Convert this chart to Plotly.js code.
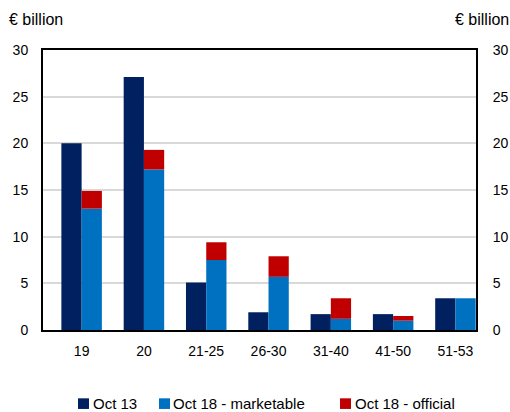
<!DOCTYPE html>
<html><head><meta charset="utf-8">
<script src="https://cdn.plot.ly/plotly-3.0.1.min.js"></script>
<style>body{margin:0;padding:0;background:#fff}#chart{width:510px;height:412px}</style>
</head><body><div id="chart"></div>
<script>
const categories = ["19", "20", "21-25", "26-30", "31-40", "41-50", "51-53"];
const oct13 = [20.0, 27.1, 5.1, 1.9, 1.7, 1.7, 3.4];
const oct18Marketable = [13.0, 17.2, 7.5, 5.7, 1.2, 1.0, 3.4];
const oct18Official = [1.9, 2.1, 1.9, 2.2, 2.2, 0.5, 0];
const yTicks = [0, 5, 10, 15, 20, 25, 30];
const seriesNames = ["Oct 13", "Oct 18 - marketable", "Oct 18 - official"];
const seriesColors = ["#002060", "#0070C0", "#C00000"];

const fam = "Liberation Sans, Arial, sans-serif";
const font = {family: fam, size: 14, color: "#000"};
const traces = [
  {type: "bar", name: seriesNames[0], x: categories, y: oct13, offsetgroup: "a",
   marker: {color: seriesColors[0]}},
  {type: "bar", name: seriesNames[1], x: categories, y: oct18Marketable, offsetgroup: "b",
   marker: {color: seriesColors[1]}},
  {type: "bar", name: seriesNames[2], x: categories, y: oct18Official, base: oct18Marketable,
   offsetgroup: "b", marker: {color: seriesColors[2]}},
  {type: "scatter", x: categories, y: oct13, yaxis: "y2", mode: "none", showlegend: false, hoverinfo: "skip"}
];

// legend drawn as squares + labels below the plot
const legendSquareX = [0.0808, 0.2679, 0.6859];
const legendTextX = [0.1132, 0.2979, 0.7182];
const shapes = seriesNames.map((n, i) => ({
  type: "rect", xref: "paper", yref: "paper",
  x0: legendSquareX[i], x1: legendSquareX[i] + 0.0254, y0: -0.282, y1: -0.244,
  fillcolor: seriesColors[i], line: {width: 0}
}));
const annotations = seriesNames.map((n, i) => ({
  text: n, xref: "paper", yref: "paper", x: legendTextX[i], y: -0.262,
  xanchor: "left", yanchor: "middle", showarrow: false, borderpad: 0,
  font: {family: fam, size: 15, color: "#000"}
}));
annotations.push(
  {text: "€ billion", xref: "paper", yref: "paper", x: -0.083, y: 1.11, xanchor: "left", yanchor: "middle",
   showarrow: false, font: {family: fam, size: 16, color: "#000"}},
  {text: "€ billion", xref: "paper", yref: "paper", x: 1.08, y: 1.11, xanchor: "right", yanchor: "middle",
   showarrow: false, font: {family: fam, size: 16, color: "#000"}}
);

const layout = {
  width: 510, height: 412,
  margin: {l: 43, r: 34, t: 50, b: 82},
  paper_bgcolor: "#fff", plot_bgcolor: "#fff",
  font: font,
  barmode: "group", bargap: 0.35, bargroupgap: 0,
  showlegend: false,
  xaxis: {type: "category", range: [-0.62, 6.33], showline: true, linecolor: "#000", linewidth: 2,
          mirror: true, ticks: "", showgrid: false, tickfont: font, ticklabelstandoff: 7},
  yaxis: {range: [0, 30], tickvals: yTicks, showline: true, linecolor: "#000", linewidth: 2,
          showgrid: true, gridcolor: "#d9d9d9", gridwidth: 2, ticks: "", tickfont: font,
          zeroline: false, ticklabelstandoff: 10},
  yaxis2: {range: [0, 30], tickvals: yTicks, overlaying: "y", side: "right", showline: true,
           linecolor: "#000", linewidth: 2, showgrid: false, ticks: "", tickfont: font,
           zeroline: false, ticklabelstandoff: 12},
  shapes: shapes,
  annotations: annotations
};
Plotly.newPlot("chart", traces, layout, {displayModeBar: false, staticPlot: true});
</script></body></html>
